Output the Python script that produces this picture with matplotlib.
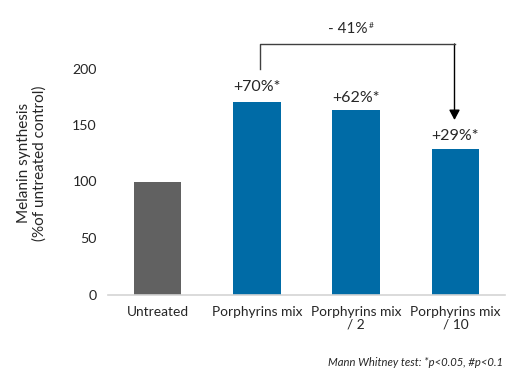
import matplotlib
matplotlib.use("Agg")
import matplotlib.pyplot as plt
from matplotlib.patches import FancyArrowPatch
from matplotlib.lines import Line2D

categories = ["Untreated", "Porphyrins mix", "Porphyrins mix\n/ 2", "Porphyrins mix\n/ 10"]
values = [100, 170, 163, 129]
labels = [None, "+70%*", "+62%*", "+29%*"]
label_gaps = [0, 6, 3.5, 4]
colors = ["#616161", "#006BA6", "#006BA6", "#006BA6"]
yticks = [0, 50, 100, 150, 200]

plt.rcParams['font.family'] = ['Lato', 'DejaVu Sans']
W, H = 519, 383
fig = plt.figure(figsize=(W/100, H/100), dpi=100)
ax = fig.add_axes([108/W, 1-294.5/H, 397/W, 226/H])
ax.bar(range(4), values, width=0.48, color=colors, edgecolor="none", zorder=2)
ax.set_xlim(-0.5, 3.5)
ax.set_ylim(0, 200)
ax.set_xticks(range(4), categories, fontsize=9.9, color="#262626", linespacing=1.1)
ax.set_yticks(yticks, [str(v) for v in yticks], fontsize=10.2, color="#262626")
ax.tick_params(axis='x', length=0, pad=8)
ax.tick_params(axis='y', length=0, pad=8)
for s in ["top", "right", "left"]:
    ax.spines[s].set_visible(False)
ax.spines["bottom"].set_color("#D4D4D4")
ax.spines["bottom"].set_linewidth(1.2)
fig.text(32/W, 1-163/H, "Melanin synthesis\n(%of untreated control)", rotation=90, ha="center", va="center",
         ma="center", fontsize=11, color="#262626", linespacing=1.1)

for i, (v, t, g) in enumerate(zip(values, labels, label_gaps)):
    if t:
        ax.annotate(t, (i, v), xytext=(0, g), textcoords="offset points", ha="center", va="bottom",
                    fontsize=11.5, color="#262626", annotation_clip=False)

def px(x, y):
    return (x/W, 1-y/H)
fig.add_artist(Line2D([259.5/W, 259.5/W, 454.5/W], [1-69/H, 1-44/H, 1-44/H], color="#404040", lw=1.0))
fig.add_artist(FancyArrowPatch(px(454.5, 44), px(454.5, 120), transform=fig.transFigure,
               arrowstyle="-|>,head_length=0.6,head_width=0.32", mutation_scale=10, color="black", lw=1.0,
               shrinkA=0, shrinkB=0))
fig.text(348/W, 1-29/H, "- 41%", ha="center", va="center", fontsize=11, color="#262626")
fig.text(368.5/W, 1-25/H, "#", ha="left", va="center", fontsize=6, color="#262626")
fig.text(503/W, 1-362/H, "Mann Whitney test: *p<0.05, #p<0.1", ha="right", va="center", fontsize=8.1,
         style="italic", color="#262626")
fig.savefig("out.png", dpi=100)
